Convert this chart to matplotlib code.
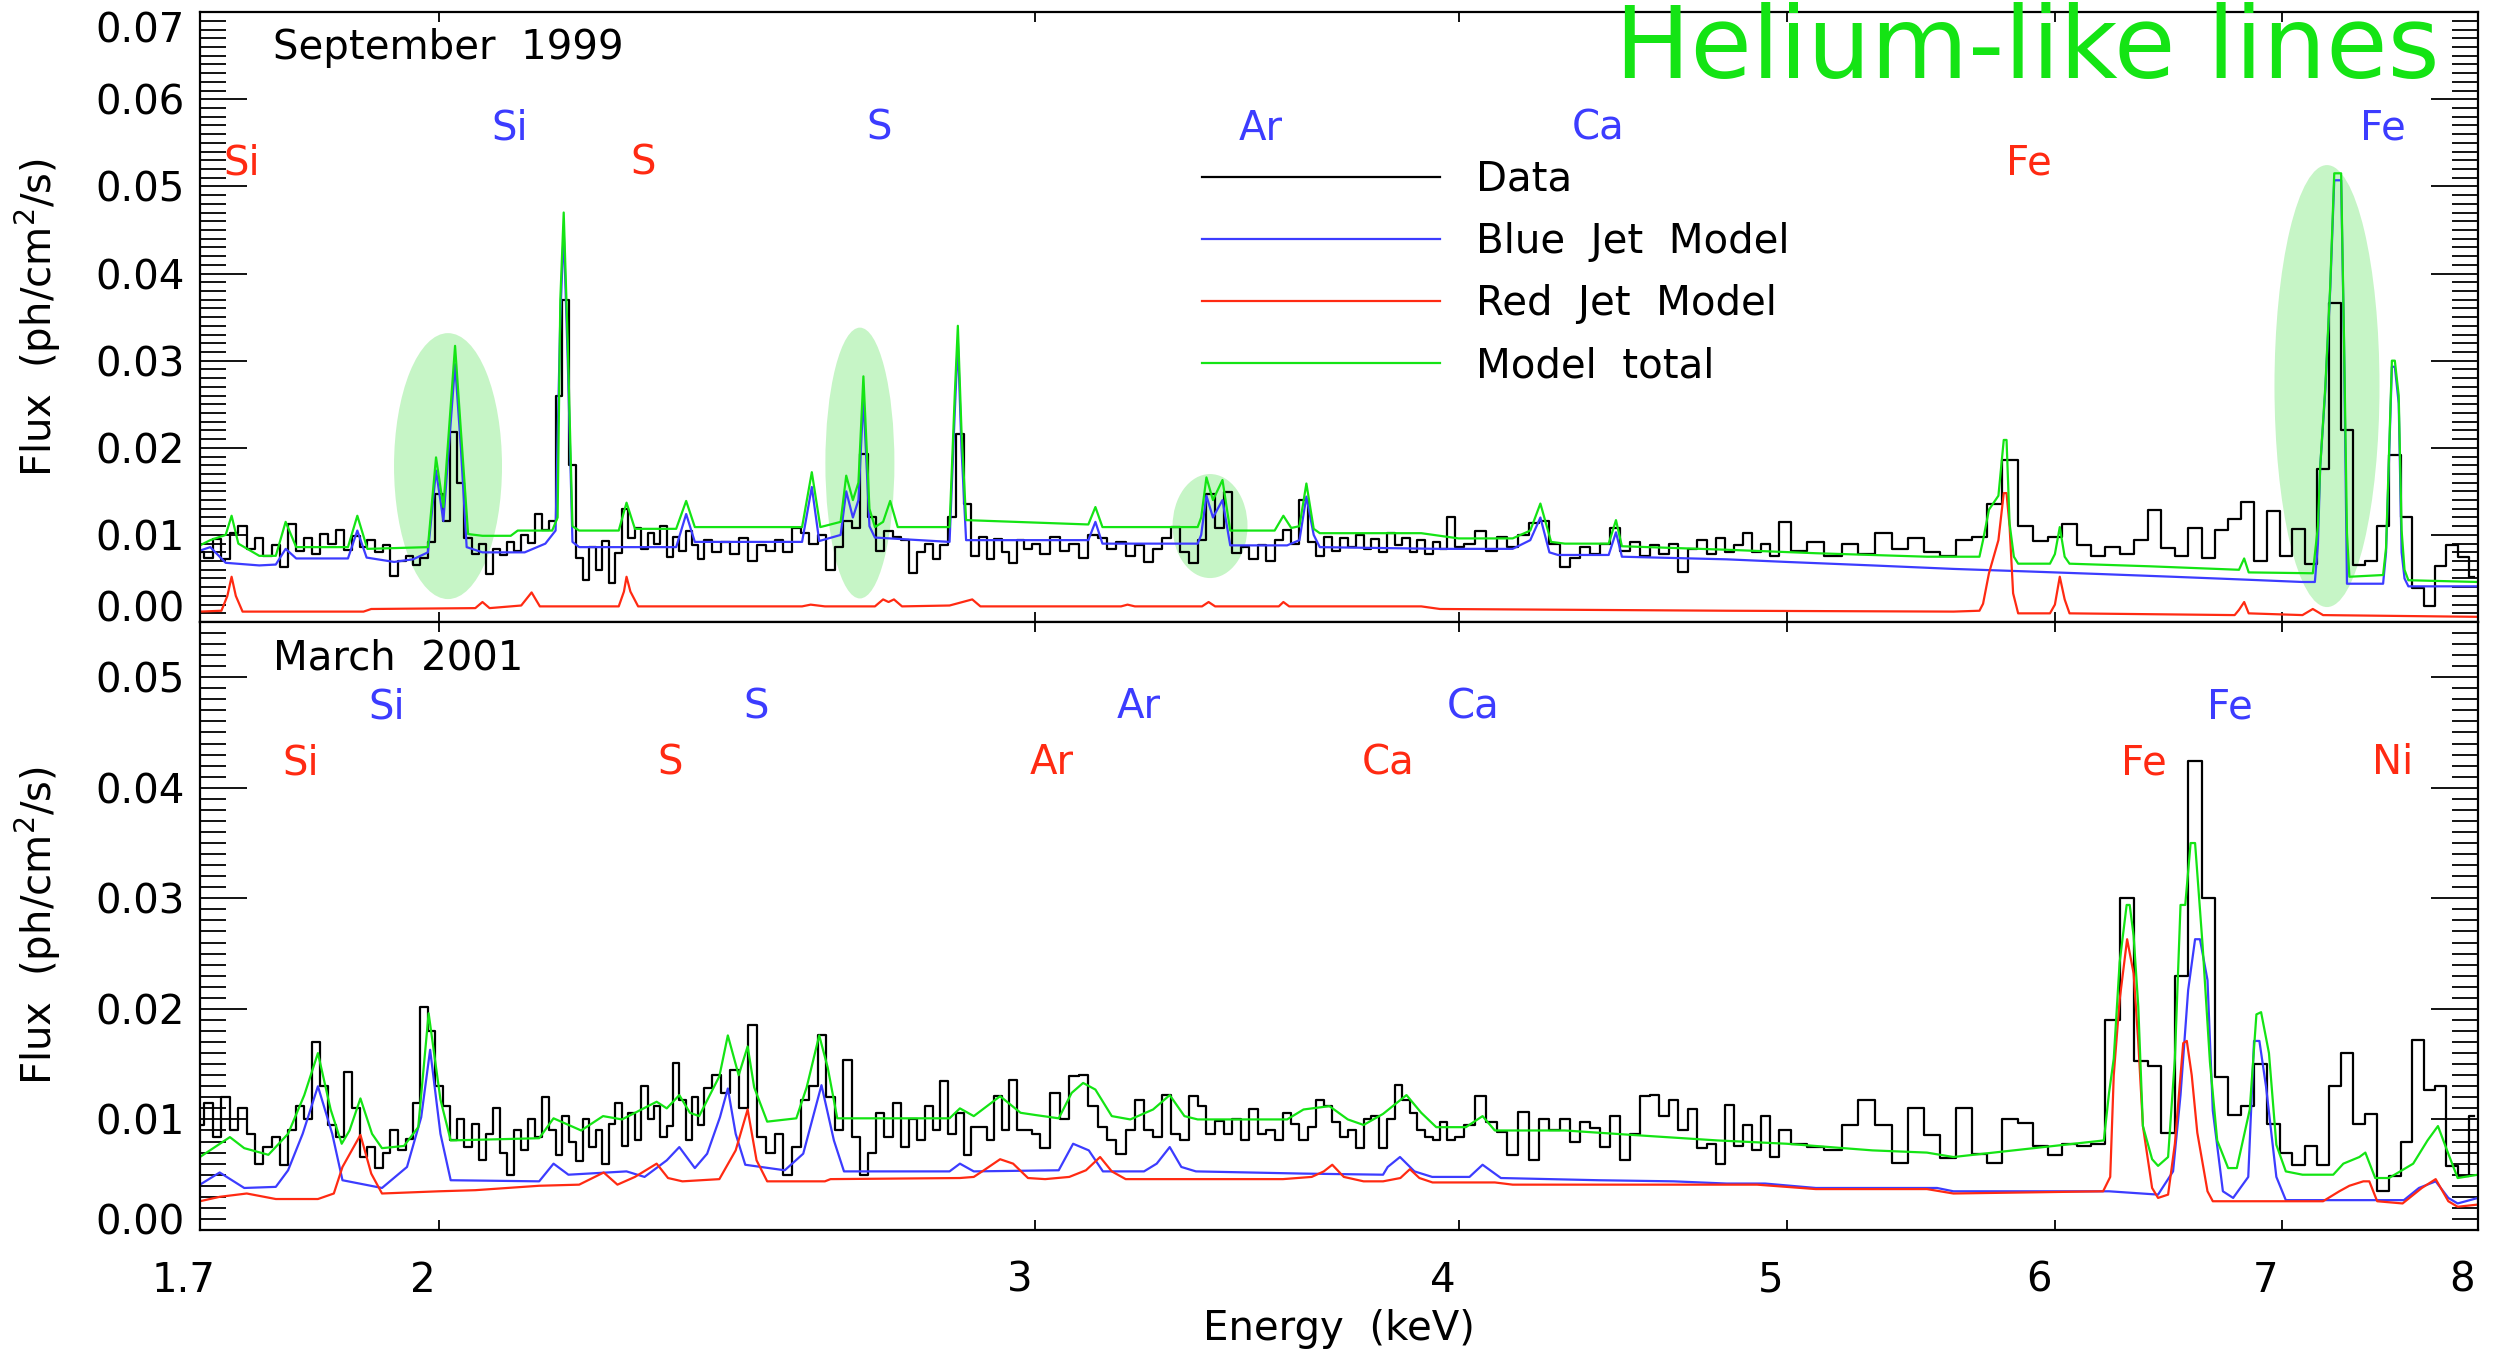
import numpy as np
import matplotlib
matplotlib.use("Agg")
import matplotlib.pyplot as plt
import matplotlib.transforms as mtransforms
from matplotlib.patches import Ellipse
from matplotlib.ticker import MultipleLocator, NullLocator

plt.rcParams['font.family'] = ['DejaVu Sans']
plt.rcParams['mathtext.fontset'] = 'dejavusans'

# ---------------- data (flux values in units of 1e-3 ph/cm2/s) ----------------
# energy bins of the observed spectra (keV), shared by both epochs
data_energy = [
    1.70, 1.71, 1.72, 1.73, 1.74, 1.75, 1.76, 1.77, 1.78, 1.79,
    1.80, 1.81, 1.82, 1.83, 1.84, 1.85, 1.86, 1.87, 1.88, 1.89,
    1.90, 1.91, 1.92, 1.93, 1.94, 1.95, 1.96, 1.97, 1.98, 1.99,
    2.00, 2.01, 2.02, 2.03, 2.04, 2.05, 2.06, 2.07, 2.08, 2.09,
    2.10, 2.11, 2.12, 2.13, 2.14, 2.15, 2.16, 2.17, 2.18, 2.19,
    2.20, 2.21, 2.22, 2.23, 2.24, 2.25, 2.26, 2.27, 2.28, 2.29,
    2.30, 2.31, 2.32, 2.33, 2.34, 2.35, 2.36, 2.37, 2.38, 2.39,
    2.40,
    2.415, 2.43, 2.445, 2.46, 2.475, 2.49, 2.505, 2.52, 2.535, 2.55,
    2.565, 2.58, 2.595, 2.61, 2.625, 2.64, 2.655, 2.67, 2.685, 2.70,
    2.715, 2.73, 2.745, 2.76, 2.775, 2.79, 2.805, 2.82, 2.835, 2.85,
    2.865, 2.88, 2.895, 2.91, 2.925, 2.94, 2.955, 2.97, 2.985, 3.00,
    3.02, 3.04, 3.06, 3.08, 3.10, 3.12, 3.14, 3.16, 3.18, 3.20,
    3.22, 3.24, 3.26, 3.28, 3.30, 3.32, 3.34, 3.36, 3.38, 3.40,
    3.42, 3.44, 3.46, 3.48, 3.50, 3.52, 3.54, 3.56, 3.58, 3.60,
    3.62, 3.64, 3.66, 3.68, 3.70, 3.72, 3.74, 3.76, 3.78, 3.80,
    3.82, 3.84, 3.86, 3.88, 3.90, 3.92, 3.94, 3.96, 3.98, 4.00,
    4.03, 4.06, 4.09, 4.12, 4.15, 4.18, 4.21, 4.24, 4.27, 4.30,
    4.33, 4.36, 4.39, 4.42, 4.45, 4.48, 4.51, 4.54, 4.57, 4.60,
    4.63, 4.66, 4.69, 4.72, 4.75, 4.78, 4.81, 4.84, 4.87, 4.90,
    4.93, 4.96, 4.99,
    5.04, 5.10, 5.16, 5.22, 5.28, 5.34, 5.40, 5.46, 5.52, 5.58,
    5.64, 5.70, 5.76, 5.82, 5.88, 5.94, 6.00, 6.06, 6.12, 6.18,
    6.24, 6.30, 6.36, 6.42, 6.48, 6.54, 6.60, 6.66, 6.72, 6.78,
    6.84, 6.90, 6.96, 7.02, 7.08, 7.14, 7.20, 7.26, 7.32, 7.38,
    7.44, 7.50, 7.56, 7.62, 7.68, 7.74, 7.80, 7.86, 7.92, 7.98,
]

sep99_data = [
    8.0, 7.4, 9.5, 7.2, 10.2, 11.0, 8.4, 9.6, 7.6, 8.8,
    6.3, 11.3, 8.2, 9.6, 7.8, 10.1, 9.0, 10.6, 8.3, 9.9,
    8.6, 9.4, 8.0, 8.8, 5.3, 7.0, 7.6, 6.6, 7.3, 9.2,
    14.7, 11.6, 21.8, 16.0, 9.6, 7.8, 9.0, 5.5, 8.4, 7.7,
    9.2, 8.1, 10.0, 9.1, 12.4, 10.6, 11.6, 26.0, 37.0, 18.0,
    7.4, 4.8, 8.6, 6.0, 9.3, 4.5, 7.9, 13.0, 9.6, 10.8,
    8.4, 10.2, 9.0, 11.0, 7.5, 9.8, 8.1, 10.4, 8.8, 7.2,
    9.4,
    8.0, 9.2, 7.8, 9.6, 7.0, 8.9, 8.2, 9.4, 8.0, 10.8,
    10.2, 9.0, 10.0, 6.0, 8.6, 11.6, 10.8, 19.3, 12.0, 8.2,
    10.4, 9.8, 9.4, 5.6, 8.0, 9.0, 7.2, 8.8, 12.0, 21.6,
    13.5, 7.6, 9.8, 7.2, 9.5, 8.0, 6.8, 9.4, 8.4, 9.0,
    7.8, 9.8, 8.2, 9.0, 7.4, 10.0, 9.6, 8.4, 9.2, 7.6,
    8.8, 6.9, 8.4, 9.6, 10.9, 8.0, 6.8, 9.4, 14.7, 10.8,
    14.9, 7.9, 8.6, 7.2, 8.8, 7.0, 9.4, 10.6, 9.0, 14.0,
    9.2, 7.6, 9.8, 8.2, 9.6, 8.6, 10.0, 8.4, 9.5, 8.0,
    10.2, 8.8, 9.7, 8.0, 9.4, 7.8, 9.2, 8.4, 12.0, 8.6,
    9.0, 10.4, 8.2, 9.8, 8.6, 10.0, 11.4, 11.6, 9.0, 6.3,
    7.4, 8.6, 7.8, 9.0, 10.8, 8.2, 9.2, 7.6, 8.8, 7.8,
    9.0, 5.8, 8.4, 9.4, 7.8, 9.6, 8.0, 8.8, 10.2, 8.0,
    9.0, 7.6, 11.5,
    8.2, 9.2, 7.6, 9.0, 7.8, 10.2, 8.4, 9.6, 8.0, 7.6,
    9.4, 9.8, 13.5, 18.6, 11.0, 9.3, 9.8, 11.3, 8.8, 7.6,
    8.6, 7.8, 9.4, 12.9, 8.5, 7.6, 10.8, 7.4, 10.6, 11.8,
    13.8, 7.0, 12.8, 7.6, 10.7, 6.7, 17.6, 36.6, 22.0, 6.6,
    7.0, 11.0, 19.2, 12.0, 3.9, 1.8, 6.4, 8.8, 7.5, 5.2,
]

mar01_data = [
    9.5, 11.5, 8.4, 12.0, 9.0, 11.0, 8.7, 6.0, 7.5, 8.4,
    5.9, 9.0, 11.2, 10.0, 17.0, 13.0, 9.5, 8.4, 14.3, 11.0,
    6.6, 7.5, 5.6, 7.0, 9.0, 7.2, 8.2, 11.5, 20.2, 18.0,
    13.0, 11.2, 8.1, 10.0, 7.5, 9.6, 6.3, 8.7, 11.0, 7.0,
    5.0, 9.0, 7.2, 10.0, 8.4, 12.0, 9.0, 6.8, 10.3, 8.0,
    6.2, 10.0, 7.5, 9.0, 6.0, 9.6, 11.5, 7.6, 10.6, 8.1,
    13.0, 10.0, 11.2, 8.4, 9.4, 15.1, 11.8, 8.1, 12.0, 9.5,
    12.8,
    14.0, 12.4, 14.5, 11.0, 18.5, 8.4, 7.0, 8.7, 5.0, 7.5,
    11.8, 13.0, 17.6, 12.0, 9.0, 15.4, 8.4, 5.0, 7.0, 10.6,
    8.4, 11.5, 7.5, 10.0, 8.1, 11.2, 9.0, 13.5, 8.7, 10.6,
    6.8, 9.3, 9.3, 8.1, 12.1, 9.0, 13.6, 9.0, 9.0, 8.7,
    7.4, 12.4, 10.0, 13.9, 14.0, 11.2, 9.3, 8.1, 6.9, 9.0,
    11.8, 9.0, 8.4, 12.2, 8.7, 8.1, 12.1, 11.2, 8.7, 9.9,
    8.7, 10.0, 8.1, 10.9, 8.7, 9.0, 8.1, 10.6, 9.6, 8.1,
    9.3, 11.8, 11.2, 9.8, 8.4, 9.0, 7.4, 10.0, 10.3, 7.4,
    10.0, 13.1, 11.8, 10.6, 9.0, 8.4, 8.1, 9.8, 8.1, 8.4,
    9.5, 12.1, 9.8, 8.9, 6.8, 10.7, 6.3, 10.0, 9.0, 10.0,
    8.0, 9.8, 9.2, 7.5, 10.3, 6.3, 8.7, 12.1, 12.2, 10.3,
    11.8, 9.0, 10.9, 7.4, 7.8, 6.0, 11.3, 7.6, 9.5, 7.2,
    10.3, 6.6, 9.0,
    7.8, 7.5, 7.2, 9.5, 11.8, 9.5, 6.1, 11.0, 8.6, 6.5,
    11.0, 6.9, 6.1, 10.0, 9.7, 7.6, 6.8, 7.8, 7.6, 7.8,
    19.0, 30.0, 15.3, 14.8, 8.8, 23.0, 42.4, 30.0, 13.8, 10.4,
    11.2, 15.0, 9.6, 7.0, 5.9, 7.6, 5.9, 13.0, 16.0, 9.6,
    10.5, 3.5, 4.9, 8.0, 17.2, 12.7, 13.0, 5.8, 4.9, 10.3,
]

# model curves: (energy keV, flux 1e-3)
sep99_blue = [
    (1.700, 8.2), (1.712, 8.6), (1.730, 6.8), (1.770, 6.5), (1.790, 6.6),
    (1.802, 8.4), (1.815, 7.3), (1.880, 7.3), (1.892, 10.5), (1.904, 7.4),
    (1.940, 6.9), (1.965, 7.2), (1.985, 8.0), (1.996, 17.4), (2.006, 11.6),
    (2.022, 29.6), (2.030, 20.0), (2.038, 8.6), (2.060, 8.0), (2.120, 8.0),
    (2.150, 9.0), (2.165, 10.5), (2.172, 35.0), (2.177, 45.0), (2.183, 30.0),
    (2.190, 9.2), (2.200, 8.6), (2.350, 8.6), (2.366, 12.4), (2.380, 9.2),
    (2.560, 9.2), (2.577, 15.5), (2.590, 9.3), (2.628, 10.0), (2.638, 15.0),
    (2.650, 12.0), (2.660, 14.0), (2.669, 25.8), (2.680, 11.0), (2.690, 9.7),
    (2.830, 9.2), (2.840, 24.0), (2.846, 32.3), (2.853, 20.0), (2.862, 9.4),
    (3.110, 9.4), (3.125, 11.5), (3.140, 9.0), (3.350, 9.0), (3.358, 10.0),
    (3.370, 14.5), (3.385, 12.0), (3.407, 14.0), (3.425, 8.8), (3.560, 8.8),
    (3.590, 9.4), (3.607, 14.4), (3.625, 10.0), (3.640, 8.6), (3.950, 8.4),
    (4.150, 8.4), (4.200, 9.4), (4.229, 12.0), (4.255, 8.0), (4.280, 7.7),
    (4.430, 7.7), (4.452, 10.3), (4.470, 7.5), (4.800, 7.2), (5.000, 6.9),
    (5.300, 6.5), (5.600, 6.1), (5.900, 5.8), (6.200, 5.5), (6.500, 5.2),
    (6.800, 4.9), (7.100, 4.6), (7.160, 4.6), (7.175, 9.0), (7.186, 17.8),
    (7.211, 26.6), (7.235, 38.1), (7.255, 50.7), (7.289, 50.7), (7.303, 32.4),
    (7.318, 4.4), (7.450, 4.4), (7.500, 4.4), (7.515, 8.0), (7.527, 16.3),
    (7.545, 29.3), (7.560, 29.3), (7.580, 25.1), (7.595, 8.0), (7.610, 5.0),
    (7.630, 4.1), (8.000, 4.1),
]

sep99_red = [
    (1.700, 1.2), (1.725, 1.3), (1.732, 3.0), (1.737, 5.2), (1.742, 3.0),
    (1.750, 1.2), (1.900, 1.2), (1.910, 1.5), (2.050, 1.6), (2.060, 2.3),
    (2.070, 1.6), (2.115, 1.9), (2.130, 3.4), (2.142, 1.8), (2.260, 1.8),
    (2.268, 3.5), (2.272, 5.2), (2.278, 3.5), (2.290, 1.8), (2.560, 1.8),
    (2.575, 2.0), (2.600, 1.8), (2.690, 1.8), (2.705, 2.6), (2.715, 2.3),
    (2.725, 2.6), (2.740, 1.8), (2.830, 1.9), (2.874, 2.6), (2.890, 1.8),
    (3.180, 1.8), (3.194, 2.0), (3.210, 1.8), (3.360, 1.8), (3.375, 2.3),
    (3.390, 1.8), (3.540, 1.8), (3.551, 2.3), (3.565, 1.8), (3.900, 1.8),
    (3.950, 1.5), (4.800, 1.3), (5.600, 1.2), (5.700, 1.3), (5.714, 2.1),
    (5.737, 5.6), (5.774, 9.4), (5.795, 14.8), (5.806, 14.8), (5.818, 11.0),
    (5.832, 3.3), (5.852, 1.0), (5.980, 1.0), (6.000, 2.0), (6.020, 5.2),
    (6.040, 2.6), (6.060, 1.0), (6.780, 0.8), (6.800, 1.4), (6.824, 2.3),
    (6.845, 1.0), (7.100, 0.8), (7.150, 1.5), (7.200, 0.8), (8.000, 0.6),
]

sep99_total = [
    (1.700, 8.8), (1.712, 9.4), (1.730, 10.0), (1.737, 12.2), (1.745, 9.0),
    (1.770, 7.6), (1.790, 7.6), (1.802, 11.5), (1.815, 8.6), (1.880, 8.6),
    (1.892, 12.2), (1.905, 8.4), (1.985, 8.6), (1.996, 18.9), (2.006, 13.2),
    (2.022, 31.7), (2.030, 22.0), (2.040, 10.1), (2.060, 9.9), (2.100, 9.9),
    (2.110, 10.5), (2.160, 10.5), (2.168, 12.0), (2.172, 37.0), (2.177, 47.0),
    (2.183, 32.0), (2.190, 11.0), (2.200, 10.5), (2.260, 10.5), (2.272, 13.7),
    (2.285, 10.7), (2.350, 10.7), (2.366, 13.9), (2.380, 10.9), (2.560, 10.9),
    (2.577, 17.2), (2.592, 10.9), (2.628, 11.5), (2.638, 16.8), (2.650, 14.0),
    (2.660, 16.0), (2.669, 28.2), (2.680, 13.0), (2.690, 10.9), (2.705, 11.5),
    (2.718, 13.9), (2.732, 10.9), (2.830, 10.9), (2.840, 26.0), (2.846, 34.0),
    (2.853, 22.0), (2.862, 11.7), (3.110, 11.2), (3.125, 13.2), (3.140, 10.9),
    (3.350, 10.9), (3.358, 12.0), (3.370, 16.6), (3.385, 14.0), (3.407, 16.3),
    (3.425, 10.5), (3.530, 10.5), (3.551, 12.2), (3.570, 10.8), (3.590, 11.0),
    (3.607, 15.9), (3.625, 10.7), (3.640, 10.2), (3.900, 10.2), (4.000, 9.6),
    (4.150, 9.6), (4.200, 10.5), (4.229, 13.6), (4.260, 9.2), (4.300, 9.0),
    (4.430, 9.0), (4.452, 11.7), (4.470, 8.7), (4.800, 8.3), (5.100, 7.9),
    (5.500, 7.5), (5.700, 7.5), (5.714, 9.4), (5.737, 12.9), (5.774, 14.5),
    (5.795, 20.9), (5.806, 20.9), (5.818, 11.3), (5.835, 7.5), (5.852, 6.7),
    (5.980, 6.7), (6.000, 7.8), (6.020, 10.9), (6.040, 7.5), (6.060, 6.7),
    (6.400, 6.4), (6.800, 6.0), (6.824, 7.3), (6.845, 5.7), (7.150, 5.6),
    (7.175, 11.0), (7.186, 17.8), (7.211, 27.0), (7.235, 38.5), (7.255, 51.5),
    (7.289, 51.5), (7.303, 33.0), (7.318, 10.2), (7.330, 5.2), (7.500, 5.4),
    (7.515, 8.5), (7.527, 17.0), (7.545, 30.0), (7.560, 30.0), (7.580, 26.0),
    (7.595, 10.5), (7.610, 6.0), (7.630, 4.8), (8.000, 4.6),
]

mar01_blue = [
    (1.700, 4.1), (1.723, 5.2), (1.752, 3.8), (1.790, 3.9), (1.805, 5.4),
    (1.823, 8.7), (1.842, 13.0), (1.860, 8.7), (1.873, 4.5), (1.924, 3.8),
    (1.957, 5.7), (1.976, 10.2), (1.988, 16.3), (2.002, 8.7), (2.016, 4.5),
    (2.141, 4.4), (2.162, 6.0), (2.184, 5.0), (2.272, 5.3), (2.300, 4.8),
    (2.335, 6.3), (2.355, 7.5), (2.380, 5.6), (2.400, 6.9), (2.421, 10.2),
    (2.434, 12.8), (2.447, 8.7), (2.463, 5.9), (2.530, 5.4), (2.562, 6.9),
    (2.594, 13.1), (2.616, 8.1), (2.634, 5.3), (2.830, 5.3), (2.850, 6.0),
    (2.877, 5.3), (3.048, 5.4), (3.078, 7.8), (3.111, 7.2), (3.141, 5.3),
    (3.230, 5.3), (3.258, 6.0), (3.287, 7.5), (3.313, 5.7), (3.346, 5.3),
    (3.600, 5.1), (3.800, 5.0), (3.812, 5.7), (3.844, 6.6), (3.882, 5.3),
    (3.929, 4.8), (4.030, 4.8), (4.066, 5.9), (4.117, 4.7), (4.400, 4.5),
    (4.630, 4.4), (4.800, 4.2), (4.927, 4.2), (5.100, 3.8), (5.538, 3.8),
    (5.600, 3.5), (6.225, 3.5), (6.436, 3.2), (6.502, 5.3), (6.535, 12.2),
    (6.569, 21.7), (6.600, 26.3), (6.622, 26.3), (6.656, 22.6), (6.680, 10.8),
    (6.726, 3.5), (6.773, 2.9), (6.843, 4.8), (6.870, 17.1), (6.895, 17.1),
    (6.926, 13.0), (6.975, 4.8), (7.020, 2.7), (7.607, 2.7), (7.685, 3.8),
    (7.773, 4.4), (7.840, 2.9), (7.890, 2.4), (8.000, 2.9),
]

mar01_red = [
    (1.700, 2.6), (1.723, 3.0), (1.755, 3.3), (1.790, 2.8), (1.842, 2.8),
    (1.862, 3.3), (1.873, 5.7), (1.896, 8.6), (1.910, 5.1), (1.924, 3.3),
    (2.000, 3.5), (2.050, 3.6), (2.141, 4.0), (2.200, 4.1), (2.237, 5.2),
    (2.258, 4.1), (2.285, 4.8), (2.319, 6.0), (2.337, 4.7), (2.360, 4.4),
    (2.420, 4.6), (2.447, 7.2), (2.467, 10.9), (2.482, 6.3), (2.500, 4.4),
    (2.600, 4.4), (2.610, 4.6), (2.850, 4.7), (2.877, 4.8), (2.900, 5.5),
    (2.929, 6.4), (2.955, 6.0), (2.985, 4.7), (3.020, 4.6), (3.070, 4.8),
    (3.105, 5.4), (3.135, 6.6), (3.160, 5.3), (3.190, 4.6), (3.550, 4.6),
    (3.620, 4.8), (3.650, 5.3), (3.671, 5.9), (3.700, 4.8), (3.750, 4.4),
    (3.800, 4.4), (3.845, 4.7), (3.870, 5.5), (3.895, 4.7), (3.930, 4.3),
    (4.100, 4.3), (4.150, 4.1), (4.900, 4.1), (5.100, 3.7), (5.500, 3.7),
    (5.600, 3.3), (6.200, 3.5), (6.230, 4.8), (6.245, 14.0), (6.270, 20.8),
    (6.302, 26.3), (6.330, 23.2), (6.350, 17.0), (6.370, 9.4), (6.410, 3.8),
    (6.436, 2.9), (6.480, 3.2), (6.510, 7.8), (6.547, 16.9), (6.563, 17.1),
    (6.585, 14.0), (6.610, 8.8), (6.656, 3.5), (6.680, 2.6), (7.200, 2.6),
    (7.280, 3.5), (7.330, 4.0), (7.400, 4.4), (7.430, 4.4), (7.470, 2.6),
    (7.600, 2.4), (7.700, 3.8), (7.773, 4.6), (7.840, 2.6), (7.890, 2.1),
    (8.000, 2.3),
]

mar01_total = [
    (1.700, 6.6), (1.735, 8.4), (1.752, 7.4), (1.781, 6.8), (1.805, 8.7),
    (1.825, 12.2), (1.842, 16.0), (1.858, 10.9), (1.872, 7.8), (1.882, 9.0),
    (1.896, 11.9), (1.911, 8.7), (1.924, 7.4), (1.953, 7.6), (1.972, 9.3),
    (1.986, 19.6), (2.002, 11.8), (2.016, 8.1), (2.141, 8.3), (2.162, 10.1),
    (2.203, 9.0), (2.236, 10.3), (2.265, 10.0), (2.319, 11.6), (2.335, 11.0),
    (2.355, 12.2), (2.372, 10.6), (2.387, 10.3), (2.420, 13.9), (2.434, 17.6),
    (2.452, 14.0), (2.467, 16.6), (2.478, 12.9), (2.500, 9.8), (2.550, 10.1),
    (2.568, 12.9), (2.590, 17.6), (2.605, 14.7), (2.622, 10.1), (2.830, 10.1),
    (2.850, 11.0), (2.877, 10.3), (2.929, 12.1), (2.970, 10.6), (3.000, 10.4),
    (3.048, 10.1), (3.075, 12.4), (3.099, 13.3), (3.125, 12.7), (3.160, 10.3),
    (3.200, 10.0), (3.250, 10.9), (3.287, 12.2), (3.320, 10.3), (3.350, 10.0),
    (3.560, 10.0), (3.600, 10.9), (3.664, 11.2), (3.710, 10.0), (3.750, 9.5),
    (3.800, 10.5), (3.861, 12.2), (3.900, 10.6), (3.940, 9.3), (4.020, 9.3),
    (4.066, 10.3), (4.100, 9.0), (4.300, 9.0), (4.500, 8.6), (4.770, 8.1),
    (5.000, 7.8), (5.300, 7.2), (5.500, 7.0), (5.600, 6.6), (6.203, 8.1),
    (6.225, 12.4), (6.245, 15.5), (6.270, 24.2), (6.300, 29.4), (6.313, 29.4),
    (6.330, 26.6), (6.350, 20.2), (6.370, 9.4), (6.410, 6.4), (6.436, 5.8),
    (6.480, 6.6), (6.510, 15.5), (6.535, 29.4), (6.556, 29.4), (6.580, 35.0),
    (6.600, 35.0), (6.634, 25.7), (6.667, 15.2), (6.700, 8.1), (6.750, 5.6),
    (6.790, 5.6), (6.850, 10.9), (6.881, 19.5), (6.903, 19.7), (6.940, 16.0),
    (6.975, 7.7), (7.020, 5.3), (7.100, 5.0), (7.250, 5.0), (7.300, 6.0),
    (7.380, 6.6), (7.410, 7.0), (7.460, 4.7), (7.530, 4.7), (7.655, 6.0),
    (7.730, 8.1), (7.785, 9.4), (7.840, 6.9), (7.890, 4.7), (8.000, 5.0),
]

# line identifications (label, energy keV)
sep99_blue_ids = [('Si', 2.098), ('S', 2.698), ('Ar', 3.497), ('Ca', 4.397), ('Fe', 7.50)]
sep99_red_ids = [('Si', 1.749), ('S', 2.298), ('Fe', 5.896)]
mar01_blue_ids = [('Si', 1.930), ('S', 2.482), ('Ar', 3.218), ('Ca', 4.041), ('Fe', 6.757)]
mar01_red_ids = [('Si', 1.821), ('S', 2.341), ('Ar', 3.033), ('Ca', 3.814), ('Fe', 6.376), ('Ni', 7.55)]

# highlighted He-like lines in the 1999 panel (axes fraction: x, y, w, h)
he_like_marks = [(0.1089, 0.2557, 0.0474, 0.436), (0.2897, 0.2607, 0.0303, 0.444),
                 (0.4434, 0.1574, 0.0329, 0.1705), (0.9337, 0.3869, 0.0461, 0.7246)]

x_ticks = [1.7, 2, 3, 4, 5, 6, 7, 8]
x_tick_labels = ['1.7', '2', '3', '4', '5', '6', '7', '8']
top_y_ticks = [0.00, 0.01, 0.02, 0.03, 0.04, 0.05, 0.06, 0.07]
top_y_labels = ['0.00', '0.01', '0.02', '0.03', '0.04', '0.05', '0.06', '0.07']
bot_y_ticks = [0.00, 0.01, 0.02, 0.03, 0.04, 0.05]
bot_y_labels = ['0.00', '0.01', '0.02', '0.03', '0.04', '0.05']

BLUE = '#3c3cff'
RED = '#ff2a12'
GREEN = '#14e414'
FS = 29
LW = 1.6

fig = plt.figure(figsize=(24.96, 13.6), dpi=100)
ax1 = fig.add_axes([0.0801, 0.5426, 0.9127, 0.4485])
ax2 = fig.add_axes([0.0801, 0.0956, 0.9127, 0.4471])

energy = np.array(data_energy)


def draw_panel(ax, data, blue, red, total):
    lines = []
    lines.append(ax.step(energy, np.array(data) * 1e-3, where='mid', color='black', lw=LW)[0])
    for series, col in ((blue, BLUE), (red, RED), (total, GREEN)):
        e, f = np.array(series).T
        lines.append(ax.plot(e, f * 1e-3, color=col, lw=LW)[0])
    return lines


top_lines = draw_panel(ax1, sep99_data, sep99_blue, sep99_red, sep99_total)
draw_panel(ax2, mar01_data, mar01_blue, mar01_red, mar01_total)

for (cx, cy, w, h) in he_like_marks:
    ax1.add_patch(Ellipse((cx, cy), w, h, transform=ax1.transAxes,
                          facecolor='#c6f5c6', edgecolor='none', zorder=0))

for ax, ymax, yt, yl in ((ax1, 0.07, top_y_ticks, top_y_labels),
                         (ax2, 0.055, bot_y_ticks, bot_y_labels)):
    ax.set_xscale('log')
    ax.set_xlim(1.7, 8.0)
    ax.set_ylim(0, ymax)
    ax.set_xticks(x_ticks)
    ax.xaxis.set_minor_locator(NullLocator())
    ax.set_yticks(yt, labels=yl)
    ax.yaxis.set_minor_locator(MultipleLocator(0.001))
    ax.tick_params(axis='x', which='major', direction='in', length=7, width=1.3,
                   top=True, bottom=True, labelsize=FS, pad=22)
    ax.tick_params(axis='y', which='major', direction='in', length=34, width=1.3,
                   left=True, right=True, labelsize=FS, pad=11)
    ax.tick_params(axis='y', which='minor', direction='in', length=18.5, width=1.3,
                   left=True, right=True)
    for sp in ax.spines.values():
        sp.set_linewidth(1.6)
    ax.set_ylabel('Flux  (ph/cm$^2$/s)', fontsize=FS)
    ax.yaxis.set_label_coords(-0.0601, 0.5)

ax1.set_xticklabels([])
ax2.set_xticklabels(x_tick_labels)
ax2.set_xlabel('Energy  (keV)', fontsize=FS)
ax2.xaxis.set_label_coords(0.5, -0.13)

# IDL-style label placement nudges (pixels at 100 dpi)
px = fig.dpi_scale_trans


def nudge(label, dx, dy):
    label.set_transform(label.get_transform() + mtransforms.ScaledTranslation(dx / 100, dy / 100, px))


for lab in ax2.get_xticklabels():
    nudge(lab, -16, 0)
top_ylabs = ax1.get_yticklabels()
nudge(top_ylabs[-1], 0, -15)
nudge(top_ylabs[0], 0, 16)
nudge(ax2.get_yticklabels()[0], 0, 11)

ax1.text(0.032, 0.923, 'September  1999', transform=ax1.transAxes, fontsize=FS, va='baseline')
ax2.text(0.032, 0.921, 'March  2001', transform=ax2.transAxes, fontsize=FS, va='baseline')

for ax, ids, y, col in ((ax1, sep99_blue_ids, 0.0566, BLUE), (ax1, sep99_red_ids, 0.0526, RED),
                        (ax2, mar01_blue_ids, 0.0473, BLUE), (ax2, mar01_red_ids, 0.0422, RED)):
    for name, e in ids:
        ax.text(e, y, name, color=col, fontsize=FS, ha='center', va='center')

ax1.legend(top_lines, ['Data', 'Blue  Jet  Model', 'Red  Jet  Model', 'Model  total'],
           loc='upper left', bbox_to_anchor=(0.4399, 0.758), frameon=False, fontsize=FS,
           handlelength=5.9, handletextpad=0.9, labelspacing=0.55, borderpad=0,
           borderaxespad=0)

fig.text(0.9776, 0.9426, 'Helium-like lines', color=GREEN, fontsize=72,
         ha='right', va='baseline')

fig.savefig('out.png', dpi=100)
